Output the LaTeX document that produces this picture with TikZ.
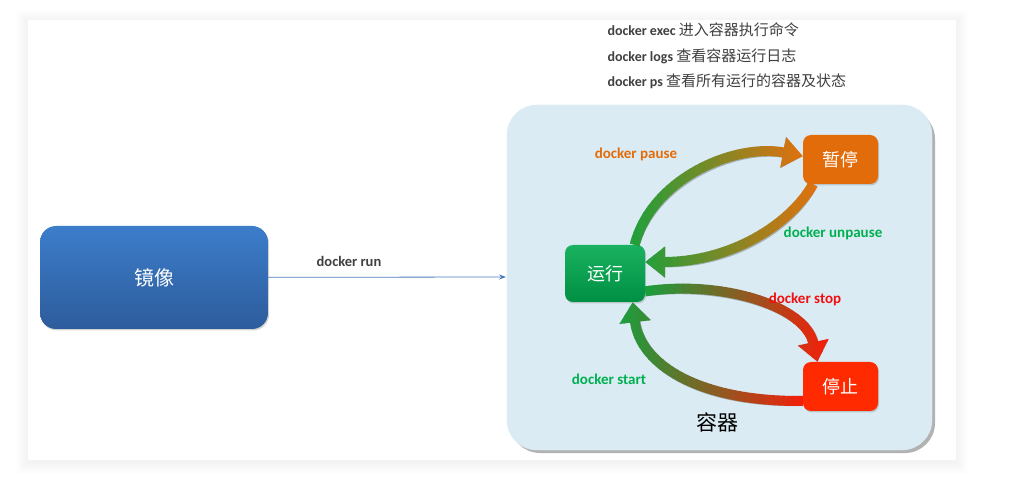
\documentclass[tikz,border=0pt]{standalone}
\usepackage{fontspec}
\setmainfont{Carlito}
\newfontfamily\cjk{Noto Sans CJK SC}
\usetikzlibrary{arrows.meta,shadows}

\definecolor{imgtop}{HTML}{3C7DCA}
\definecolor{imgbot}{HTML}{2D5C9C}
\definecolor{ctbg}{HTML}{DAEBF3}
\definecolor{runc}{HTML}{00A94F}
\definecolor{pausec}{HTML}{E36C0A}
\definecolor{stopc}{HTML}{FF2A00}
\definecolor{agreen}{HTML}{14A23E}
\definecolor{aorange}{HTML}{E3700E}
\definecolor{ared}{HTML}{F51E0A}
\definecolor{lgreen}{HTML}{00B050}
\definecolor{lred}{HTML}{F01010}
\definecolor{txtgray}{HTML}{404040}
\definecolor{runline}{HTML}{4A7EC0}

\tikzset{
  box/.style={rounded corners=8pt, minimum width=75pt, minimum height=49pt,
    text=white, font=\cjk\fontsize{18}{20}\selectfont,
    drop shadow={opacity=0.35, shadow xshift=1pt, shadow yshift=-1.5pt}},
  fat/.style={line width=10pt, -{Triangle[width=30pt,length=20pt]}},
  lbl/.style={font=\bfseries\fontsize{15}{17}\selectfont},
  note/.style={anchor=west, text=txtgray, font=\fontsize{14}{16}\selectfont}
}
\newcommand\cjknote[1]{{\cjk\fontsize{15}{17}\selectfont #1}}

% #1 left x, #2 right x, #3 left colour, #4 right colour, #5 path
\newcommand\fatarrow[5]{%
  \draw[fat, black, opacity=0.25, shift={(1.5,1.5)}] #5;
  \foreach \i in {0,...,39}{
    \pgfmathsetmacro\xa{#1+(#2-#1)*\i/40-0.3}
    \pgfmathsetmacro\xb{#1+(#2-#1)*(\i+1)/40+0.3}
    \pgfmathtruncatemacro\pc{100-\i*100/39}
    \begin{scope}
      \clip (\xa,0) rectangle (\xb,480);
      \draw[fat, #3!\pc!#4] #5;
    \end{scope}}}

\begin{document}
\begin{tikzpicture}[x=1pt,y=-1pt]
  \fill[white] (0,0) rectangle (1010,478);
  \useasboundingbox (0,0) rectangle (1010,478);
  % page
  \foreach \d in {1,...,12}
    \fill[black,opacity=0.005] (28-\d,20-\d+2) rectangle (956+\d,460+\d+2);
  \fill[white] (28,20) rectangle (956,460);

  % top notes
  \node[note] (n1) at (604,30){\textbf{docker exec} \cjknote{进入容器执行命令}};
  \node[note] (n2) at (604,56){\textbf{docker logs} \cjknote{查看容器运行日志}};
  \node[note] (n3) at (604,81){\textbf{docker ps} \cjknote{查看所有运行的容器及状态}};

  % container
  \fill[black,opacity=0.3,rounded corners=30pt] (510,109) rectangle (935,453);
  \draw[ctbg, fill=ctbg, rounded corners=30pt] (507,105) rectangle (932,450);
  \node[font=\cjk\fontsize{21}{24}\selectfont] (ct) at (717,422){容器};

  % image
  \node[box, shade, top color=imgtop, bottom color=imgbot, rounded corners=16pt,
    minimum width=228pt, minimum height=103pt, font=\cjk\fontsize{20}{22}\selectfont]
    (img) at (154,277.5){镜像};
  \coordinate (cin) at (506,277);
  \draw[runline, line width=0.8pt, -{Stealth[length=7pt,width=5pt]}] (img) -- (cin);
  \node[lbl, text=txtgray, font=\bfseries\fontsize{14.5}{17}\selectfont] (lrun) at (349,261){docker run};

  % states
  \node[box, shade, top color=runc!90!white, bottom color=runc!85!black,
    minimum width=80pt, minimum height=57pt] (run) at (605,273.5){运行};
  \node[box, fill=pausec] (pause) at (840.5,159.5){暂停};
  \node[box, fill=stopc] (stop) at (840.5,386.5){停止};

  \fatarrow{620}{808}{agreen}{aorange}{(run.44) .. controls (652,178) and (735,143) .. (pause.175)}
  \fatarrow{630}{822}{agreen}{aorange}{(pause.222) .. controls (790,225) and (730,262) .. (run.16)}
  \fatarrow{640}{832}{agreen}{ared}{(run.336) .. controls (720,280) and (805,305) .. (stop.133)}
  \fatarrow{615}{808}{agreen}{ared}{(stop.201) .. controls (700,402) and (640,365) .. (run.314)}

  \node[lbl, text=pausec] (lpause) at (636,154){docker pause};
  \node[lbl, text=lgreen] (lunpause) at (833,233){docker unpause};
  \node[lbl, text=lred] (lstop) at (805,299){docker stop};
  \node[lbl, text=lgreen] (lstart) at (609,379){docker start};
\end{tikzpicture}
\end{document}
